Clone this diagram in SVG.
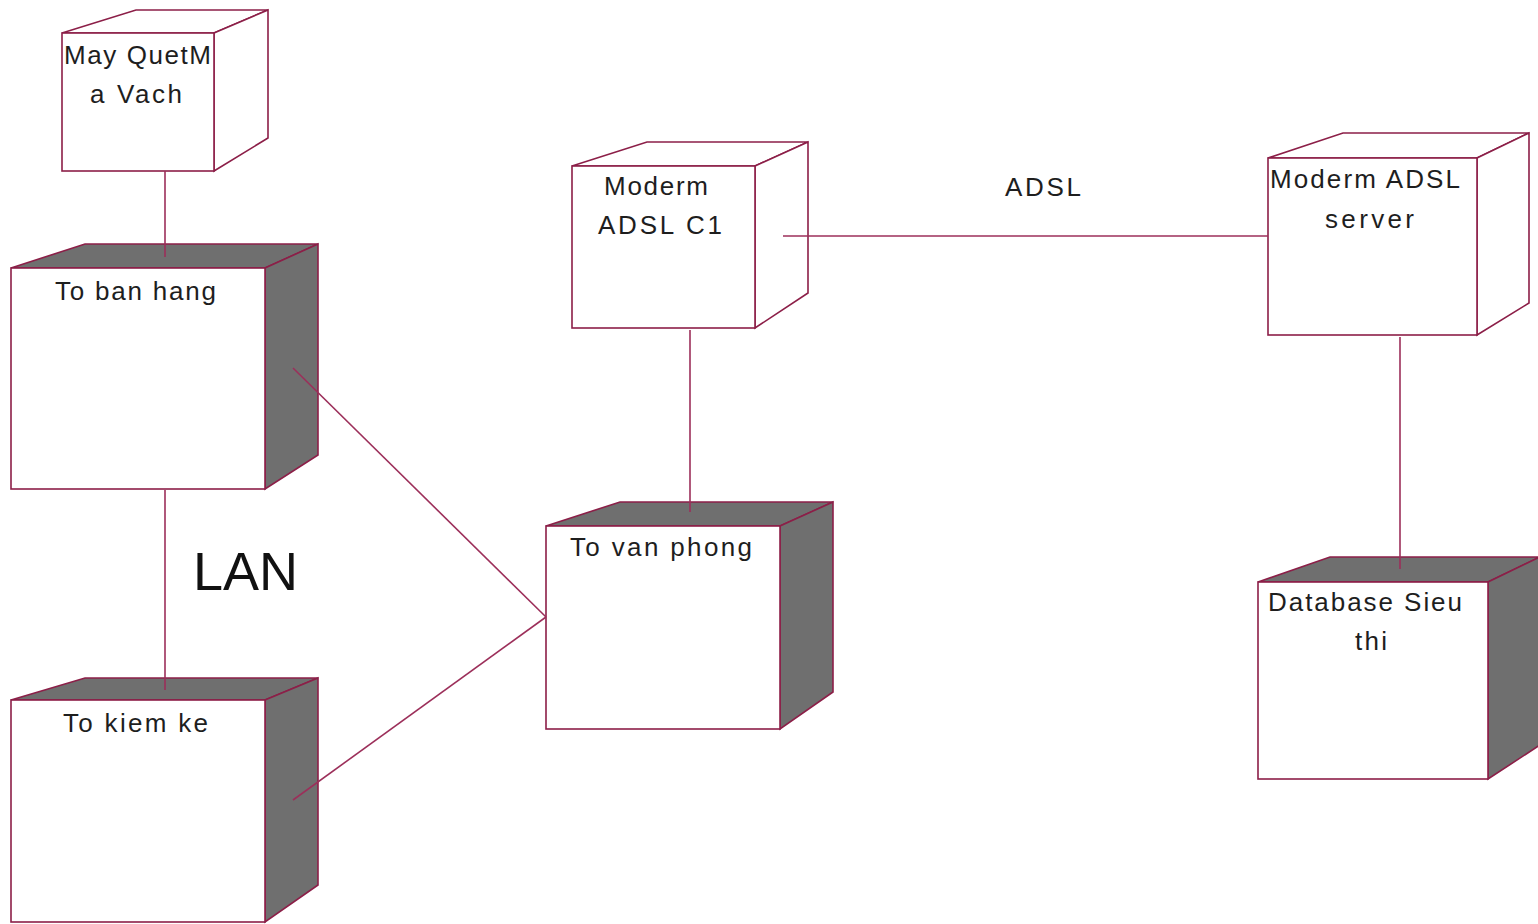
<svg xmlns="http://www.w3.org/2000/svg" width="1538" height="924" viewBox="0 0 1538 924">
  <style>
    .face { fill: #ffffff; stroke: #8c1f48; stroke-width: 1.6; stroke-linejoin: miter; }
    .shade { fill: #6f6f6f; stroke: #8c1f48; stroke-width: 1.6; }
    .open { fill: #ffffff; stroke: #8c1f48; stroke-width: 1.6; }
    .link { fill: none; stroke: #9c2f5a; stroke-width: 1.6; }
    .lbl { font-family: "Liberation Sans", Arial, sans-serif; font-size: 26px; fill: #1e1e1e; text-anchor: start; }
    .big { font-family: "Liberation Sans", Arial, sans-serif; font-size: 54px; fill: #111111; }
  </style>
  <rect width="1538" height="924" fill="#ffffff"/>

  <!-- barcode scanner -->
  <g id="may-quet-ma-vach">
    <polygon class="open" points="62,33 136,10 268,10 214,33"/>
    <polygon class="open" points="214,33 268,10 268,138 214,171"/>
    <rect class="face" x="62" y="33" width="152" height="138"/>
    <text class="lbl" x="64" y="64" textLength="147" lengthAdjust="spacing">May QuetM</text>
    <text class="lbl" x="90" y="103" textLength="92" lengthAdjust="spacing">a Vach</text>
  </g>

  <!-- sales team -->
  <g id="to-ban-hang">
    <polygon class="shade" points="11,268 85,244 318,244 265,268"/>
    <polygon class="shade" points="265,268 318,244 318,455 265,489"/>
    <rect class="face" x="11" y="268" width="254" height="221"/>
    <text class="lbl" x="55" y="300" textLength="161" lengthAdjust="spacing">To ban hang</text>
  </g>

  <!-- inventory team -->
  <g id="to-kiem-ke">
    <polygon class="shade" points="11,700 85,678 318,678 265,700"/>
    <polygon class="shade" points="265,700 318,678 318,885 265,922"/>
    <rect class="face" x="11" y="700" width="254" height="222"/>
    <text class="lbl" x="63" y="732" textLength="145" lengthAdjust="spacing">To kiem ke</text>
  </g>

  <!-- client modem -->
  <g id="moderm-adsl-c1">
    <polygon class="open" points="572,166 647,142 808,142 755,166"/>
    <polygon class="open" points="755,166 808,142 808,293 755,328"/>
    <rect class="face" x="572" y="166" width="183" height="162"/>
    <text class="lbl" x="604" y="195" textLength="104" lengthAdjust="spacing">Moderm</text>
    <text class="lbl" x="598" y="234" textLength="124" lengthAdjust="spacing">ADSL C1</text>
  </g>

  <!-- office -->
  <g id="to-van-phong">
    <polygon class="shade" points="546,526 620,502 833,502 780,526"/>
    <polygon class="shade" points="780,526 833,502 833,692 780,729"/>
    <rect class="face" x="546" y="526" width="234" height="203"/>
    <text class="lbl" x="570" y="556" textLength="182" lengthAdjust="spacing">To van phong</text>
  </g>

  <!-- server modem -->
  <g id="moderm-adsl-server">
    <polygon class="open" points="1268,158 1343,133 1529,133 1477,158"/>
    <polygon class="open" points="1477,158 1529,133 1529,303 1477,335"/>
    <rect class="face" x="1268" y="158" width="209" height="177"/>
    <text class="lbl" x="1270" y="188" textLength="190" lengthAdjust="spacing">Moderm ADSL</text>
    <text class="lbl" x="1325" y="228" textLength="89" lengthAdjust="spacing">server</text>
  </g>

  <!-- database -->
  <g id="database-sieu-thi">
    <polygon class="shade" points="1258,582 1330,557 1540,557 1488,582"/>
    <polygon class="shade" points="1488,582 1540,557 1540,745 1488,779"/>
    <rect class="face" x="1258" y="582" width="230" height="197"/>
    <text class="lbl" x="1268" y="611" textLength="194" lengthAdjust="spacing">Database Sieu</text>
    <text class="lbl" x="1355" y="650" textLength="32" lengthAdjust="spacing">thi</text>
  </g>

  <!-- connectors, drawn over the node faces -->
  <g id="connectors">
    <line class="link" x1="165" y1="171" x2="165" y2="257"/>
    <line class="link" x1="165" y1="490" x2="165" y2="690"/>
    <line class="link" x1="293" y1="368" x2="546" y2="617"/>
    <line class="link" x1="293" y1="800" x2="546" y2="617"/>
    <line class="link" x1="690" y1="330" x2="690" y2="512"/>
    <line class="link" x1="783" y1="236" x2="1268" y2="236"/>
    <line class="link" x1="1400" y1="337" x2="1400" y2="569"/>
    <text class="lbl" x="1005" y="196" textLength="76" lengthAdjust="spacing">ADSL</text>
    <text class="big" x="193" y="590" textLength="105" lengthAdjust="spacingAndGlyphs">LAN</text>
  </g>
</svg>
